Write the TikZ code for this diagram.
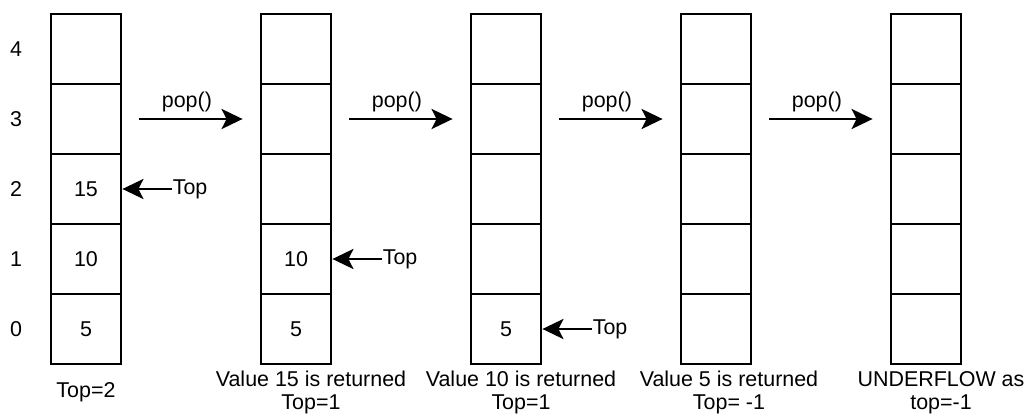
\documentclass[tikz,border=0pt]{standalone}
\usepackage{fontspec}
\setmainfont{Liberation Sans}
\usetikzlibrary{arrows.meta,positioning}

\begin{document}
\begin{tikzpicture}[
  cell/.style={draw, line width=1.6pt, minimum width=1.4cm, minimum height=1.4cm, inner sep=0pt},
  txt/.style={font=\fontsize{12.2}{13.2}\selectfont},
  lbl/.style={txt, align=center},
  ar/.style={line width=1.6pt, -{Stealth[length=0.42cm,width=0.4cm,inset=0.1cm]}},
  tp/.style={txt, inner sep=0pt}]
  \useasboundingbox (0,0) rectangle (20.56,8.28);
  % five stacks of five cells
  \foreach \s in {1,...,5}
    \foreach \c in {0,...,4}
      \node[cell] (s\s-\c) at ({1.72+4.2*(\s-1)},{1.7+1.4*\c}) {};
  \foreach \c in {0,...,4} \node[txt] (i\c) at (0.32,{1.7+1.4*\c}) {\c};
  \foreach \s/\c/\v in {1/0/5,1/1/10,1/2/15,2/0/5,2/1/10,3/0/5}
    \node[txt] (v\s-\c) at (s\s-\c) {\v};
  % pop arrows
  \foreach \s [count=\t from 2] in {1,...,4}
    \draw[ar] ([xshift=0.34cm]s\s-3.east) -- node[txt, above, pos=0.46] (p\s) {pop()} ([xshift=-0.34cm]s\t-3.west);
  % top pointers
  \foreach \s/\c in {1/2,2/1,3/0} {
    \node[tp, right=1cm of s\s-\c] (t\s) {Top};
    \draw[ar] (t\s) -- (s\s-\c);
  }
  \node[lbl] (b1) at (1.72,0.44) {Top=2};
  \node[lbl] (b2) at (6.22,0.43) {Value 15 is returned\\Top=1};
  \node[lbl] (b3) at (10.42,0.43) {Value 10 is returned\\Top=1};
  \node[lbl] (b4) at (14.58,0.43) {Value 5 is returned\\Top= -1};
  \node[lbl] (b5) at (18.82,0.43) {UNDERFLOW as\\top=-1};
\end{tikzpicture}
\end{document}
